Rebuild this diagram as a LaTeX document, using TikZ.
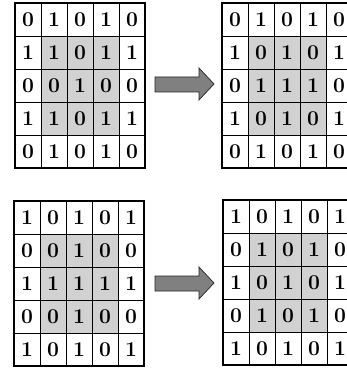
\documentclass[tikz,border=0pt]{standalone}
\usepackage{tikz}
\tikzstyle{cell}=[draw, line width=0.7pt, minimum width=0.78cm, minimum height=0.99cm, inner sep=0pt, font=\fontsize{18}{18}\selectfont\bfseries]
\tikzstyle{frame}=[line width=1.6pt]
\tikzstyle{block}=[draw=black!85, fill=black!50, line width=0.6pt, line join=miter]

% one 5x5 grid: name, left, top, rows
\newcommand{\bitgrid}[4]{%
	\foreach \row [count=\r] in {#4} {
		\foreach \v [count=\c] in \row {
			\pgfmathtruncatemacro\sh{(\r>1)*(\r<5)*(\c>1)*(\c<5)}
			\ifnum\sh=1 \def\cellcol{black!18}\else\def\cellcol{white}\fi
			\node[cell, fill=\cellcol] (#1-\r-\c) at (#2+26*\c-13, #3+33*\r-16.5) {\v};
		}
	}
	\draw[frame] (#1-1-1.north west) rectangle (#1-5-5.south east);
}

\begin{document}
\begin{tikzpicture}[x=0.03cm, y=-0.03cm]
	\clip (0,0) rectangle (347,370);
	\bitgrid{ga}{15}{3}{{0,1,0,1,0},{1,1,0,1,1},{0,0,1,0,0},{1,1,0,1,1},{0,1,0,1,0}}
	\bitgrid{gb}{222}{3}{{0,1,0,1,0},{1,0,1,0,1},{0,1,1,1,0},{1,0,1,0,1},{0,1,0,1,0}}
	\bitgrid{gc}{14}{201}{{1,0,1,0,1},{0,0,1,0,0},{1,1,1,1,1},{0,0,1,0,0},{1,0,1,0,1}}
	\bitgrid{gd}{223}{200}{{1,0,1,0,1},{0,1,0,1,0},{1,0,1,0,1},{0,1,0,1,0},{1,0,1,0,1}}
	% arrows
	\draw[block] (155,77) -- (199,77) -- (199,68) -- (214,84) -- (199,100) -- (199,92) -- (155,92) -- cycle;
	\draw[block] (155,276) -- (199,276) -- (199,267) -- (214,283) -- (199,299) -- (199,291) -- (155,291) -- cycle;
\end{tikzpicture}
\end{document}
